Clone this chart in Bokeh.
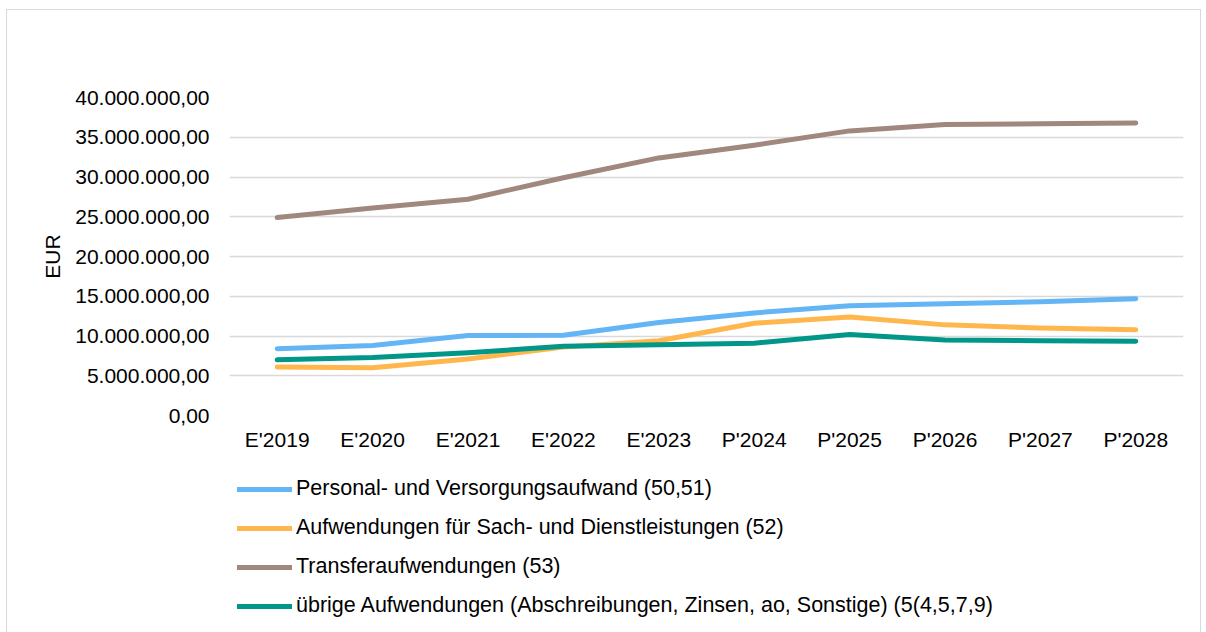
from bokeh.plotting import figure
from bokeh.layouts import column
from bokeh.models import FactorRange, Range1d, FixedTicker, Legend, LegendItem
from bokeh.embed import file_html
from bokeh.resources import INLINE

categories = ["E'2019", "E'2020", "E'2021", "E'2022", "E'2023",
              "P'2024", "P'2025", "P'2026", "P'2027", "P'2028"]

personal = [8.4e6, 8.8e6, 10.05e6, 10.1e6, 11.7e6, 12.9e6, 13.8e6, 14.05e6, 14.3e6, 14.7e6]
sach = [6.1e6, 6.0e6, 7.1e6, 8.6e6, 9.4e6, 11.6e6, 12.4e6, 11.4e6, 11.0e6, 10.8e6]
transfer = [24.9e6, 26.1e6, 27.2e6, 29.9e6, 32.4e6, 34.0e6, 35.8e6, 36.6e6, 36.7e6, 36.8e6]
uebrige = [7.0e6, 7.3e6, 7.9e6, 8.7e6, 8.9e6, 9.1e6, 10.2e6, 9.5e6, 9.4e6, 9.35e6]

series_names = [
    "Personal- und Versorgungsaufwand (50,51)",
    "Aufwendungen für Sach- und Dienstleistungen (52)",
    "Transferaufwendungen (53)",
    "übrige Aufwendungen (Abschreibungen, Zinsen, ao, Sonstige) (5(4,5,7,9)",
]
series_values = [personal, sach, transfer, uebrige]
series_colors = ["#64B5F6", "#FFB74D", "#A1887F", "#009688"]

y_ticks = [0, 5e6, 10e6, 15e6, 20e6, 25e6, 30e6, 35e6, 40e6]
y_tick_labels = ["0,00", "5.000.000,00", "10.000.000,00", "15.000.000,00",
                 "20.000.000,00", "25.000.000,00", "30.000.000,00",
                 "35.000.000,00", "40.000.000,00"]

FONT = "Liberation Sans"
TXT = "#000000"
W = 1193

p = figure(x_range=FactorRange(*categories), y_range=Range1d(0, 40e6),
           width=W, height=460, output_backend="svg", toolbar_location=None,
           min_border_left=222, min_border_top=87, min_border_right=17,
           min_border_bottom=55)
p.outline_line_color = None
p.background_fill_color = "white"
p.border_fill_color = "white"

p.xgrid.grid_line_color = None
p.ygrid.grid_line_color = "#d9d9d9"
p.ygrid.grid_line_width = 1.3
p.yaxis.ticker = FixedTicker(ticks=y_ticks)
p.yaxis.major_label_overrides = {t: l for t, l in zip(y_ticks, y_tick_labels)}

for ax in (p.xaxis[0], p.yaxis[0]):
    ax.axis_line_color = None
    ax.major_tick_line_color = None
    ax.minor_tick_line_color = None
    ax.major_tick_out = 0
    ax.major_tick_in = 0
    ax.major_label_text_font = FONT
    ax.major_label_text_font_size = "21px"
    ax.major_label_text_color = TXT

p.yaxis.major_label_standoff = 20
p.xaxis.major_label_standoff = 12
p.yaxis.axis_label = "EUR"
p.yaxis.axis_label_text_font = FONT
p.yaxis.axis_label_text_font_size = "21px"
p.yaxis.axis_label_text_font_style = "normal"
p.yaxis.axis_label_text_color = TXT
p.yaxis.axis_label_standoff = 8

for vals, col in zip(series_values, series_colors):
    p.line(categories, vals, line_color=col, line_width=5,
           line_cap="round", line_join="round")

# legend panel below the chart (frame aligned with the chart's frame)
p2 = figure(width=W, height=162, output_backend="svg", toolbar_location=None,
            x_range=Range1d(0, 1), y_range=Range1d(0, 1),
            x_axis_location=None, y_axis_location=None, min_border=0)
p2.grid.visible = False
p2.outline_line_color = None
p2.border_fill_color = "white"

items = []
for name, col in zip(series_names, series_colors):
    # off-range stand-in so that the legend can draw its swatch
    r = p2.line(x=[-10, -9], y=[-10, -9], line_color=col, line_width=5,
                line_cap="round")
    items.append(LegendItem(label=name, renderers=[r]))

legend = Legend(items=items, location=(8, 14), orientation="vertical",
                glyph_width=55, glyph_height=22, label_height=22,
                label_standoff=4, spacing=14, padding=0, margin=0,
                border_line_color=None, background_fill_alpha=0,
                label_text_font=FONT, label_text_font_size="21.5px",
                label_text_color=TXT)
p2.add_layout(legend, "center")

layout = column(p, p2, spacing=0)
layout.styles = {"margin-left": "6px", "margin-top": "9px",
                 "border-top": "1px solid #d9d9d9", "border-left": "1px solid #d9d9d9",
                 "border-right": "1px solid #d9d9d9"}

open("out.html", "w").write(file_html(layout, INLINE))
